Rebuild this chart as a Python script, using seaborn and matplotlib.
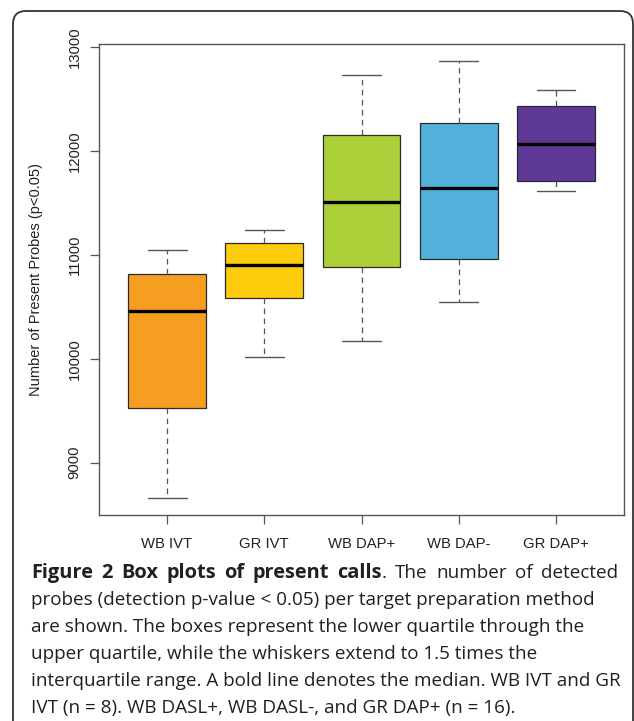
import numpy as np
import pandas as pd
import seaborn as sns
import matplotlib.pyplot as plt
from matplotlib.patches import FancyBboxPatch

# five-number summaries (min, Q1, median, Q3, max)
groups = ["WB IVT", "GR IVT", "WB DAP+", "WB DAP-", "GR DAP+"]
mins = [8663, 10018, 10172, 10541, 11618]
q1s = [9527, 10587, 10885, 10960, 11707]
medians = [10455, 10898, 11509, 11640, 12067]
q3s = [10811, 11117, 12150, 12266, 12427]
maxs = [11049, 11242, 12725, 12860, 12581]
colors = ["#F59E20", "#FBCB0C", "#ADD03A", "#52B1DA", "#5E3A96"]

yticks = [9000, 10000, 11000, 12000, 13000]

caption_bold = "Figure 2 Box plots of present calls"
caption_lines = [
    ". The number of detected",
    "probes (detection p-value < 0.05) per target preparation method",
    "are shown. The boxes represent the lower quartile through the",
    "upper quartile, while the whiskers extend to 1.5 times the",
    "interquartile range. A bold line denotes the median. WB IVT and GR",
    "IVT (n = 8). WB DASL+, WB DASL-, and GR DAP+ (n = 16).",
]

rows = []
for g, a, b, c, d, e in zip(groups, mins, q1s, medians, q3s, maxs):
    for v in (a, b, c, d, e):
        rows.append({"method": g, "probes": v})
df = pd.DataFrame(rows)

sns.set_style("white")
plt.rcParams["font.family"] = ["Liberation Sans", "DejaVu Sans"]

W, H = 634, 721
fig = plt.figure(figsize=(W / 100, H / 100), dpi=100)
ax = fig.add_axes([99 / W, 1 - 515 / H, (624 - 99) / W, (515 - 44) / H])

sns.boxplot(
    data=df,
    x="method",
    y="probes",
    hue="method",
    palette=colors,
    order=groups,
    hue_order=groups,
    saturation=1,
    width=0.8,
    whis=(0, 100),
    linecolor="#2a2a2a",
    linewidth=0.9,
    legend=False,
    ax=ax,
    medianprops={"color": "black", "linewidth": 2.4},
    whiskerprops={"color": "#555555", "linestyle": (0, (4.5, 3.5)), "linewidth": 0.9},
    capprops={"color": "#555555", "linewidth": 1.0},
)

lo, hi = min(mins), max(maxs)
pad = 0.04 * (hi - lo)
ax.set_ylim(lo - pad, hi + pad)
ax.set_xlim(-0.7, len(groups) - 0.3)
ax.set_yticks(yticks)
ax.set_yticklabels([str(t) for t in yticks], rotation=90, va="center")
ax.set_xlabel("")
ax.set_ylabel("Number of Present Probes (p<0.05)", fontsize=10.5, color="#222222", labelpad=18)

for s in ax.spines.values():
    s.set_visible(True)
    s.set_color("#555555")
    s.set_linewidth(1.0)

ax.tick_params(axis="both", which="major", direction="out", length=6.5, width=0.9,
               color="#555555", labelsize=10.7, labelcolor="#222222",
               left=True, bottom=True)
ax.tick_params(axis="x", pad=9)
ax.tick_params(axis="y", pad=6)

# rounded frame around the figure panel
frame = FancyBboxPatch((0.13, -0.3), 6.2, 7.1 + 0.3,
                       boxstyle="round,pad=0,rounding_size=0.13",
                       transform=fig.dpi_scale_trans, fill=False,
                       edgecolor="#333333", linewidth=1.3, clip_on=False)
fig.patches.append(frame)

# caption
cap_font = ["Open Sans", "DejaVu Sans"]
cap_size = 13.6
x0 = 31 / W
y0 = 1 - 573 / H
step = 27 / H
renderer = fig.canvas.get_renderer()

# first line is justified out to the right margin
first_words = [(w, "bold", 14.4) for w in caption_bold.split()]
rest = caption_lines[0].split()
first_words[-1] = (first_words[-1][0], "bold", 14.4)
pieces = first_words + [(w, "normal", cap_size) for w in rest]
texts = []
for w, wt, sz in pieces:
    t = fig.text(0, y0, w, fontsize=sz, fontweight=wt, family=cap_font,
                 color="#231f20", va="center", ha="left")
    texts.append(t)
widths = [t.get_window_extent(renderer=renderer).width for t in texts]
# the "." sticks to "calls"
n_bold = len(first_words)
glue = {n_bold}
right = 618
total = sum(widths)
n_gaps = len(texts) - 1 - len(glue)
gap = (right - 31 - total) / n_gaps
x = 31
for i, (t, w) in enumerate(zip(texts, widths)):
    if i > 0 and i not in glue:
        x += gap
    t.set_x(x / W)
    x += w

for i, line in enumerate(caption_lines[1:], start=1):
    fig.text(x0, y0 - i * step, line, fontsize=cap_size, family=cap_font,
             color="#231f20", va="center", ha="left")

fig.savefig("out.png", dpi=100)
